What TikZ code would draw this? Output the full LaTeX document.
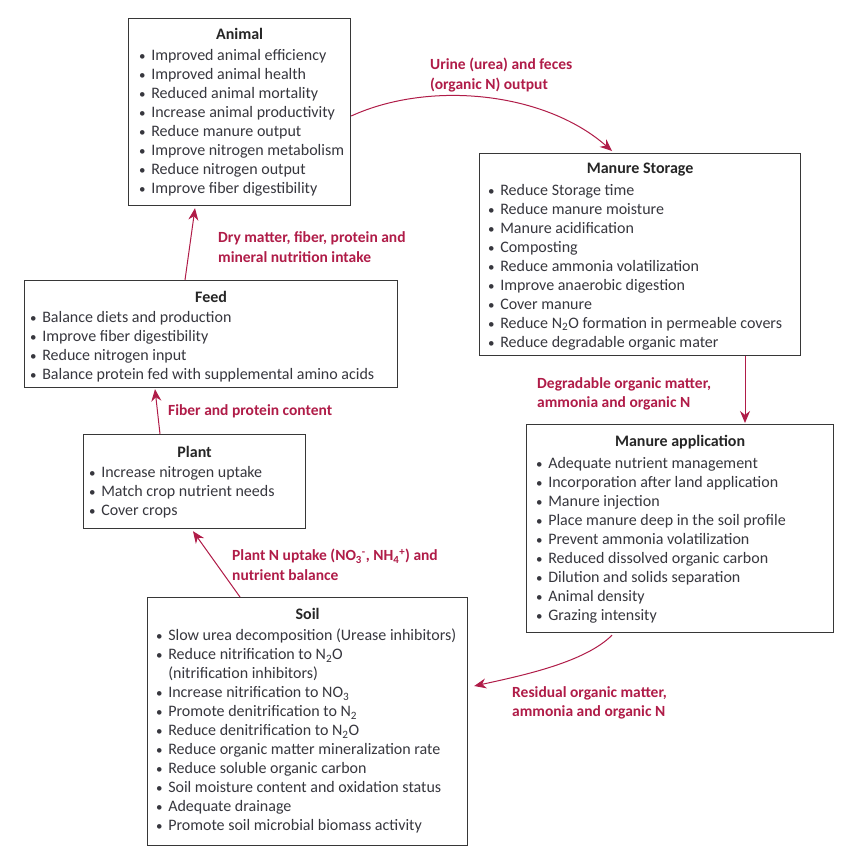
\documentclass[tikz,border=0pt]{standalone}
\usepackage{fontspec}
\setmainfont{Carlito}
\usetikzlibrary{arrows.meta,calc}
\definecolor{crim}{RGB}{176,28,72}
\definecolor{txt}{RGB}{55,55,62}
\definecolor{frame}{RGB}{55,55,55}
\newcommand\itm{{\fontsize{13}{19}\selectfont\textbullet}\hspace{0.35em}}
\newcommand\itc{\hphantom{{\fontsize{13}{19}\selectfont\textbullet}\hspace{0.35em}}}
\begin{document}
\begin{tikzpicture}[x=1pt,y=-1pt,
 box/.style={draw=frame,line width=1.2pt,fill=white,inner sep=0pt,anchor=north west},
 ttl/.style={font=\fontsize{16}{19}\selectfont\bfseries,text=black!85,inner sep=0pt},
 lst/.style={font=\fontsize{16}{19}\selectfont,text=txt,align=left,inner sep=0pt,anchor=north west},
 lbl/.style={font=\fontsize{15.5}{19.5}\selectfont\bfseries,text=crim,align=left,inner sep=0pt,anchor=west},
 flow/.style={draw=crim,line width=1pt,-{Stealth[length=12pt,width=10pt]}}]
\useasboundingbox[fill=white] (0,0) rectangle (854,855);

% boxes
\node[box,minimum width=222pt,minimum height=187pt] (animal) at (128,18) {};
\node[box,minimum width=321pt,minimum height=202pt] (storage) at (479,153) {};
\node[box,minimum width=373pt,minimum height=107pt] (feed) at (24,280) {};
\node[box,minimum width=222pt,minimum height=94pt] (plant) at (83,434) {};
\node[box,minimum width=320pt,minimum height=248pt] (soil) at (147,597) {};
\node[box,minimum width=307pt,minimum height=208pt] (app) at (526,424) {};

% titles
\node[ttl] (animalT) at ($(animal.north)+(0,16)$) {Animal};
\node[ttl] (storageT) at ($(storage.north)+(0,17)$) {Manure Storage};
\node[ttl] (feedT) at ($(feed.north)+(0,17)$) {Feed};
\node[ttl] (plantT) at ($(plant.north)+(0,18)$) {Plant};
\node[ttl] (soilT) at ($(soil.north)+(0,17)$) {Soil};
\node[ttl] (appT) at ($(app.north)+(0,18)$) {Manure application};

% lists
\node[lst] (animalL) at ($(animal.north west)+(11,31)$) {\itm Improved animal efficiency\\ \itm Improved animal health\\ \itm Reduced animal mortality\\ \itm Increase animal productivity\\ \itm Reduce manure output\\ \itm Improve nitrogen metabolism\\ \itm Reduce nitrogen output\\ \itm Improve fiber digestibility};
\node[lst] (storageL) at ($(storage.north west)+(9,31)$) {\itm Reduce Storage time\\ \itm Reduce manure moisture\\ \itm Manure acidification\\ \itm Composting\\ \itm Reduce ammonia volatilization\\ \itm Improve anaerobic digestion\\ \itm Cover manure\\ \itm Reduce N\textsubscript{2}O formation in permeable covers\\ \itm Reduce degradable organic mater};
\node[lst] (feedL) at ($(feed.north west)+(6,31)$) {\itm Balance diets and production\\ \itm Improve fiber digestibility\\ \itm Reduce nitrogen input\\ \itm Balance protein fed with supplemental amino acids};
\node[lst] (plantL) at ($(plant.north west)+(6,32)$) {\itm Increase nitrogen uptake\\ \itm Match crop nutrient needs\\ \itm Cover crops};
\node[lst] (soilL) at ($(soil.north west)+(9,32)$) {\itm Slow urea decomposition (Urease inhibitors)\\ \itm Reduce nitrification to N\textsubscript{2}O\\ \itc (nitrification inhibitors)\\ \itm Increase nitrification to NO\textsubscript{3}\\ \itm Promote denitrification to N\textsubscript{2}\\ \itm Reduce denitrification to N\textsubscript{2}O\\ \itm Reduce organic matter mineralization rate\\ \itm Reduce soluble organic carbon\\ \itm Soil moisture content and oxidation status\\ \itm Adequate drainage\\ \itm Promote soil microbial biomass activity};
\node[lst] (appL) at ($(app.north west)+(10,33)$) {\itm Adequate nutrient management\\ \itm Incorporation after land application\\ \itm Manure injection\\ \itm Place manure deep in the soil profile\\ \itm Prevent ammonia volatilization\\ \itm Reduced dissolved organic carbon\\ \itm Dilution and solids separation\\ \itm Animal density\\ \itm Grazing intensity};

% connector labels
\node[lbl] (l1) at (430,75) {Urine (urea) and feces\\(organic N) output};
\node[lbl] (l2) at (537,394) {Degradable organic matter,\\ammonia and organic N};
\node[lbl] (l3) at (512,703) {Residual organic matter,\\ammonia and organic N};
\node[lbl] (l4) at (232,565) {Plant N uptake (NO\textsubscript{3}\textsuperscript{-}, NH\textsubscript{4}\textsuperscript{+}) and\\nutrient balance};
\node[lbl] (l5) at (168,411) {Fiber and protein content};
\node[lbl] (l6) at (218,247) {Dry matter, fiber, protein and\\mineral nutrition intake};

% connectors
\draw[flow] ($(animal.north east)+(0,98)$) .. controls (430,80) and (545,92) .. ($(storage.north west)+(133,-2)$);
\draw[flow] ($(storage.south west)+(266,0)$) -- ($(app.north west)+(219,-1)$);
\draw[flow] ($(app.south west)+(86,2)$) .. controls (585,662) and (525,675) .. ($(soil.north east)+(6,89)$);
\draw[flow] ($(soil.north west)+(93,0)$) -- ($(plant.south west)+(110,2)$);
\draw[flow] ($(plant.north west)+(77,0)$) -- ($(feed.south west)+(131,1)$);
\draw[flow] ($(feed.north west)+(161,0)$) -- ($(animal.south west)+(67,2)$);
\end{tikzpicture}
\end{document}
